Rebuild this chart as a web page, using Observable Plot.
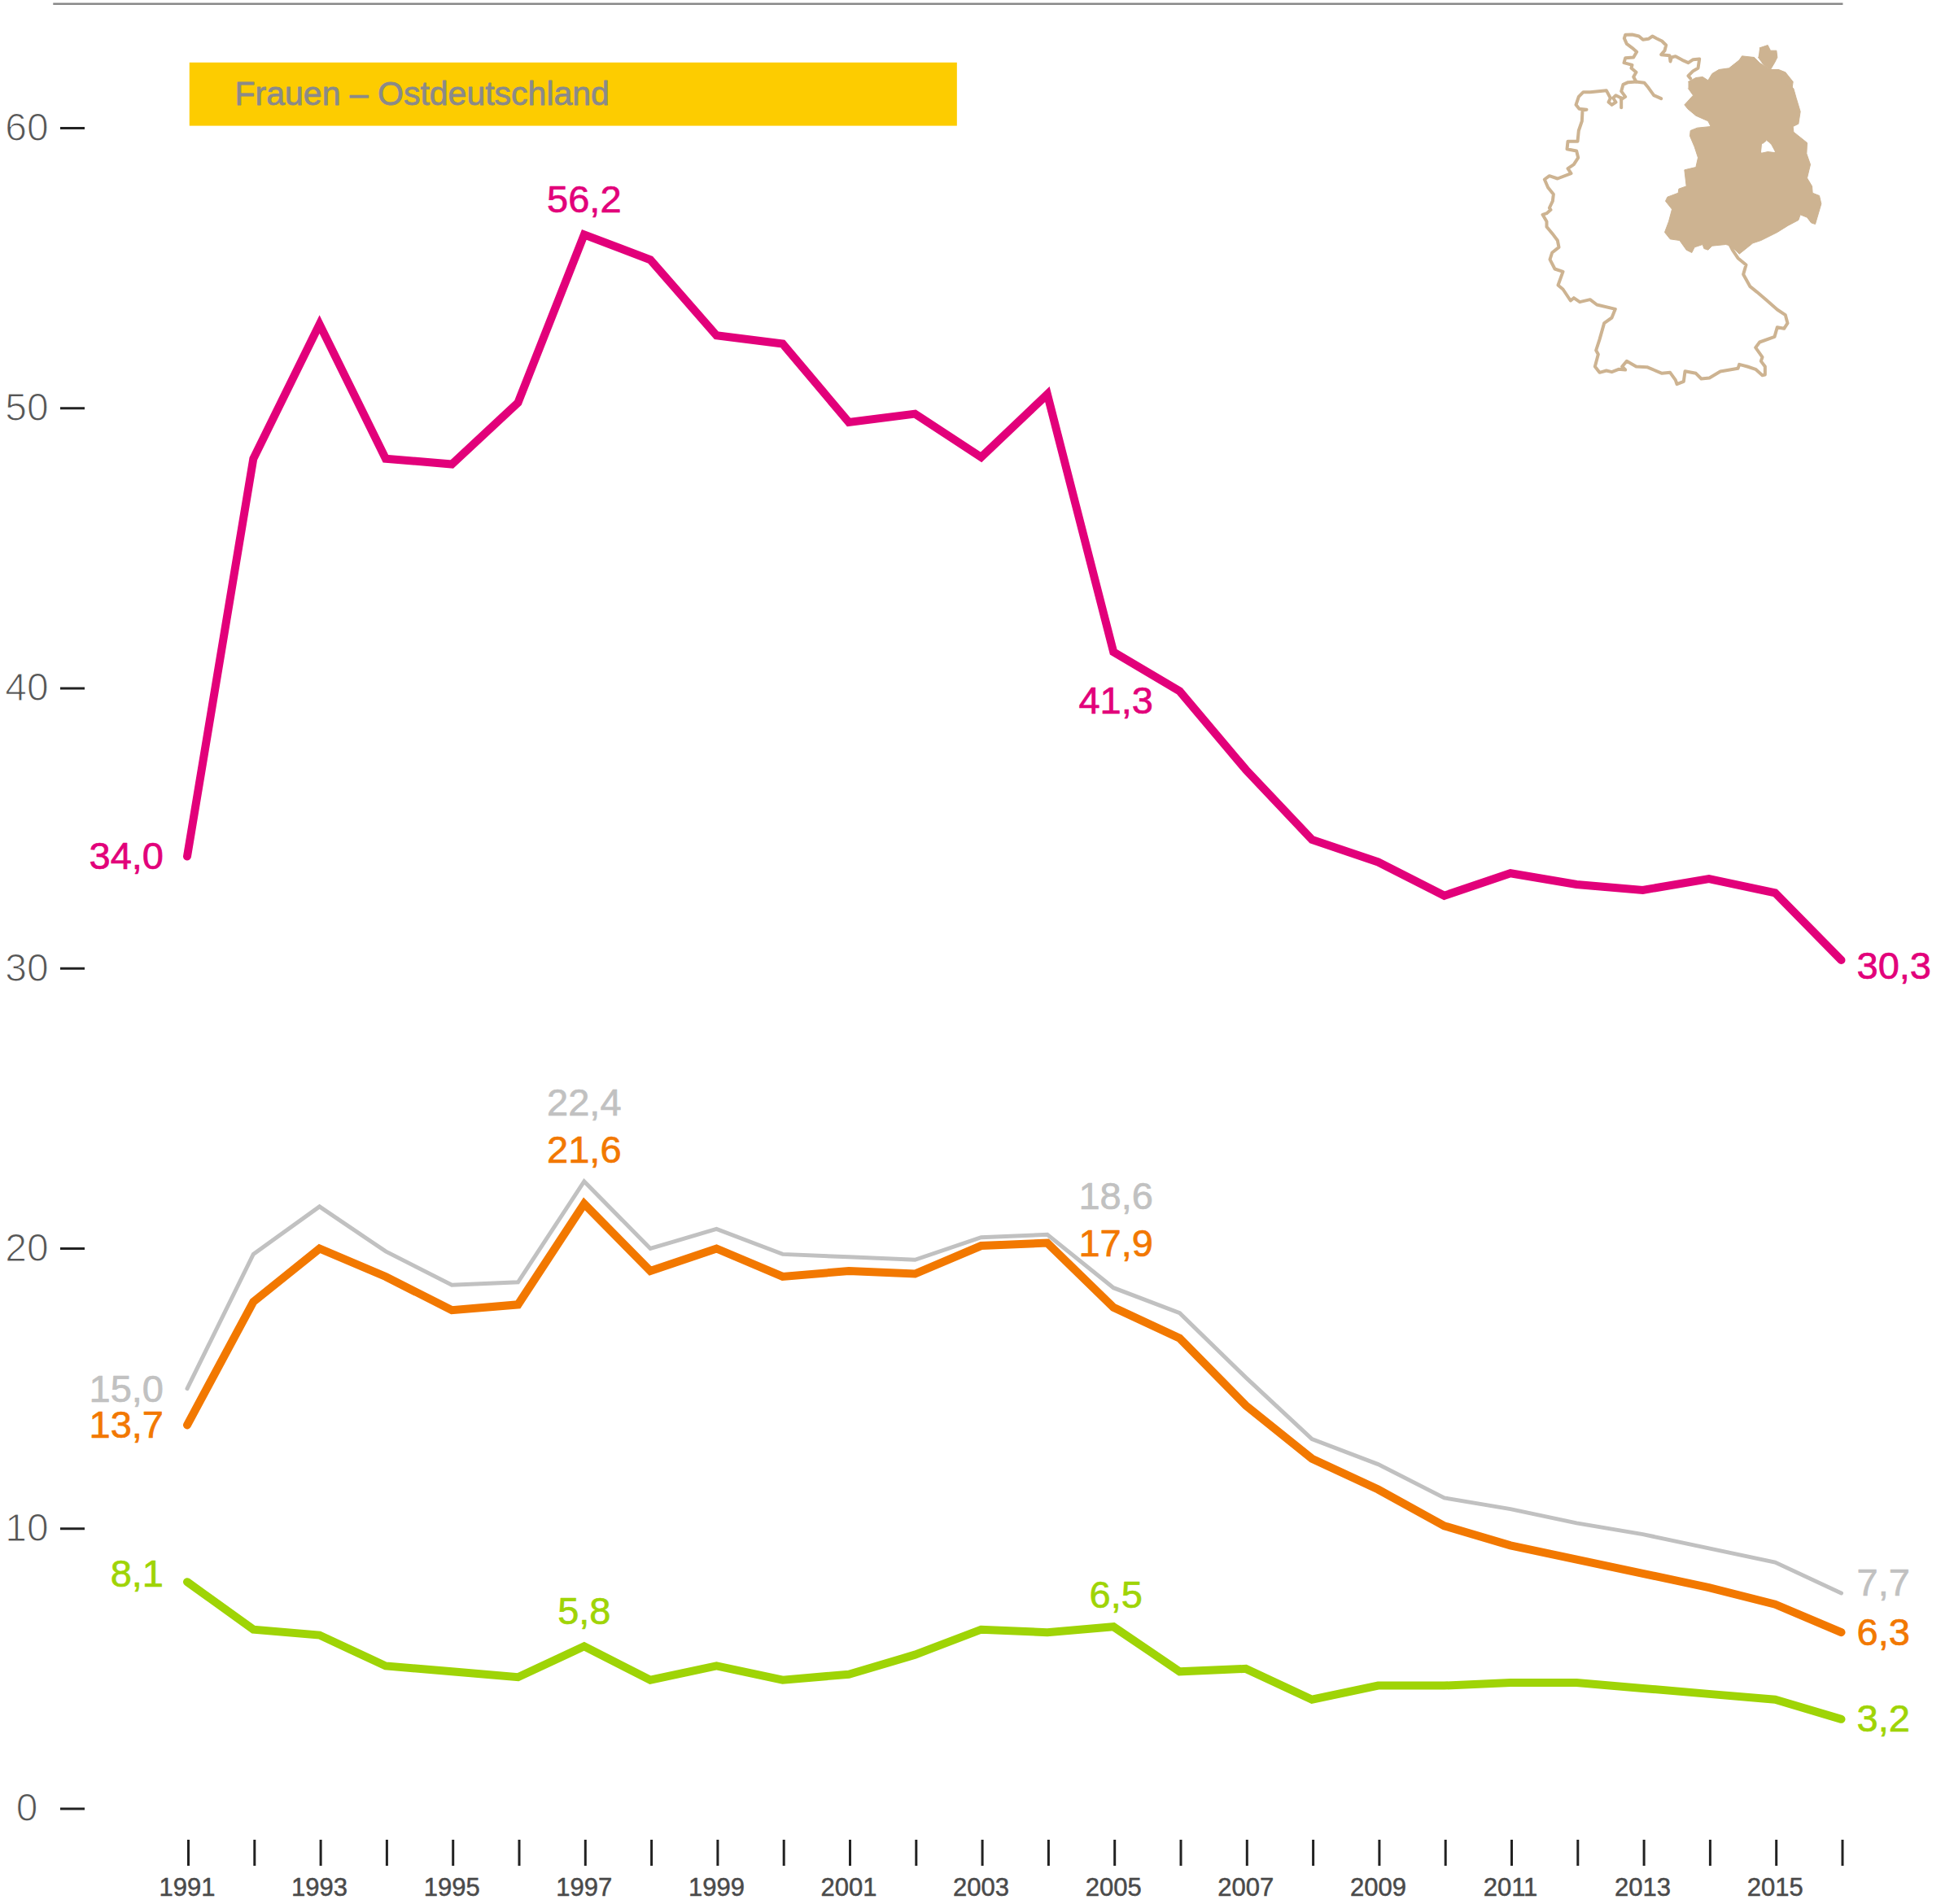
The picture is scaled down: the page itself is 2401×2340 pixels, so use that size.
<!DOCTYPE html>
<html lang="de">
<head>
<meta charset="utf-8">
<style>html,body{margin:0;padding:0;background:#fff}</style>
<script src="https://cdn.jsdelivr.net/npm/d3@7"></script>
<script src="https://cdn.jsdelivr.net/npm/@observablehq/plot@0.6"></script>
</head>
<body>
<div id="chart"></div>
<script>
const years = d3.range(1991, 2017);
const labelledYears = years.filter(y => y % 2 === 1);
const pink   = [34.0,48.2,53.0,48.2,48.0,50.2,56.2,55.3,52.6,52.3,49.5,49.8,48.25,50.5,41.3,39.9,37.1,34.6,33.8,32.6,33.4,33.0,32.8,33.2,32.7,30.3];
const grey   = [15.0,19.8,21.5,19.9,18.7,18.8,22.4,20.0,20.7,19.8,19.7,19.6,20.4,20.5,18.6,17.7,15.4,13.2,12.3,11.1,10.7,10.2,9.8,9.3,8.8,7.7];
const orange = [13.7,18.1,20.0,19.0,17.8,18.0,21.6,19.2,20.0,19.0,19.2,19.1,20.1,20.2,17.9,16.8,14.4,12.5,11.4,10.1,9.4,8.9,8.4,7.9,7.3,6.3];
const green  = [8.1,6.4,6.2,5.1,4.9,4.7,5.8,4.6,5.1,4.6,4.8,5.5,6.4,6.3,6.5,4.9,5.0,3.9,4.4,4.4,4.5,4.5,4.3,4.1,3.9,3.2];

const yTicks = [0,10,20,30,40,50,60];
const title = "Frauen – Ostdeutschland";

const COL = {pink:"#e2007a", grey:"#c1c1c1", orange:"#f27800", green:"#9fd406", tan:"#cdb391"};

// Outline of Germany and the filled eastern states (traced, in map units)
const westOutline = [[680,228],[672,218],[690,200],[708,190],[713,156],[690,158],[672,170],[650,160],[625,146],[610,150],[606,165],[603,143],[572,140],[585,125],[590,105],[575,90],[555,80],[540,72],[525,82],[505,85],[490,72],[465,66],[440,67],[436,80],[445,100],[465,115],[482,130],[470,150],[440,152],[435,170],[465,178],[462,190],[480,205],[470,222],[480,240],[450,242],[432,250],[425,275],[440,295],[425,305],[425,300],[405,290],[395,300],[405,315],[390,325],[378,315],[385,300],[370,272],[310,278],[285,278],[268,295],[258,325],[270,340],[297,343],[282,345],[280,385],[268,420],[264,460],[228,460],[225,488],[260,495],[266,520],[250,545],[228,560],[240,578],[190,597],[160,587],[142,600],[155,630],[175,655],[172,680],[160,705],[165,712],[150,725],[135,730],[150,755],[150,775],[175,805],[190,825],[195,850],[170,870],[162,895],[180,930],[210,940],[192,990],[210,1005],[238,1047],[250,1037],[272,1052],[310,1043],[335,1062],[403,1078],[390,1110],[362,1130],[345,1190],[332,1230],[340,1245],[328,1290],[345,1312],[370,1305],[390,1310],[415,1300],[440,1302],[428,1290],[445,1270],[480,1290],[520,1292],[575,1315],[605,1312],[625,1340],[630,1355],[655,1345],[660,1307],[700,1315],[720,1335],[750,1332],[790,1308],[855,1297],[860,1282],[890,1290],[920,1300],[945,1322],[955,1320],[955,1290],[940,1270],[945,1255],[920,1220],[935,1200],[990,1180],[1000,1145],[1025,1150],[1038,1130],[1030,1100],[1000,1080],[960,1045],[925,1015],[900,995],[875,950],[885,915],[855,890],[835,860],[825,840]];
const elbeOutline = [[480,240],[510,244],[525,262],[545,290],[572,302]];
const emsOutline = [[425,300],[425,335]];
const eastArea = [[672,240],[700,225],[725,222],[745,235],[760,210],[785,195],[822,190],[860,160],[880,150],[915,150],[935,170],[950,180],[975,195],[1005,195],[1022,225],[1060,265],[1070,300],[1085,350],[1078,395],[1058,405],[1060,425],[1110,465],[1108,505],[1122,545],[1110,595],[1128,625],[1130,650],[1155,660],[1162,690],[1140,765],[1125,760],[1110,740],[1085,730],[1078,750],[1040,770],[1000,795],[940,825],[910,835],[860,875],[830,845],[810,840],[760,845],[745,860],[730,855],[725,840],[695,850],[685,870],[665,860],[640,825],[605,820],[585,795],[600,755],[612,710],[588,680],[595,665],[635,650],[637,635],[665,625],[658,565],[700,555],[708,520],[695,480],[678,440],[680,420],[705,410],[755,405],[745,385],[700,365],[670,340],[658,325],[690,290],[672,265]];
const ruegen = [[935,115],[965,105],[975,125],[997,125],[1000,150],[990,170],[975,195],[950,178],[930,150]];
const usedom = [[1005,195],[1030,205],[1058,240],[1055,262],[1030,250],[1020,240]];
const darss = [[860,160],[870,145],[915,150],[880,155]];
const berlin = [[960,458],[975,470],[990,498],[965,495],[942,500],[945,470]];

// Page geometry of the chart's scales
const xRange = [229.5, 2262], yRange = [2222.5, 157];
const xDomain = [1991, 2016], yDomain = [0, 60];
const xOf = d3.scaleLinear().domain(xRange).range(xDomain);
const yOf = d3.scaleLinear().domain(yRange).range(yDomain);
const mapX = p => xOf(1850 + p[0] / 3);
const mapY = p => yOf(20 + p[1] / 3);

const series = [
  {name:"grey", values:grey, w:5},
  {name:"orange", values:orange, w:10},
  {name:"green", values:green, w:10},
  {name:"pink", values:pink, w:10}
];
const lineOf = s => Plot.line(years.map((y,i)=>({year:y, v:s.values[i]})), {
  x:"year", y:"v", stroke:COL[s.name], strokeWidth:s.w,
  strokeLinecap:"round", strokeLinejoin:"miter", strokeMiterlimit:6
});

// Value labels: [year, value, colour, vertical nudge]
const labelsLeft = [[1991,34.0,"pink",0],[1991,15.0,"grey",1],[1991,13.7,"orange",1],[1991,8.1,"green",-9]];
const labelsRight = [[2016,30.3,"pink",8],[2016,7.7,"grey",-12],[2016,6.3,"orange",1],[2016,3.2,"green",0]];
const labelsMid = [[1997,56.2,"pink",-42],[1997,22.4,"grey",-96],[1997,21.6,"orange",-65],[1997,5.8,"green",-42],
                   [2005,41.3,"pink",61],[2005,18.6,"grey",-112],[2005,17.9,"orange",-78],[2005,6.5,"green",-38]];
const fmt = v => v.toFixed(1).replace(".", ",");
const labelMark = (rows, anchor, dx) => rows.map(r => Plot.text([r], {
  x:d=>d[0], y:d=>d[1], text:d=>fmt(d[1]), fill:COL[r[2]], stroke:COL[r[2]], strokeWidth:0.7, textAnchor:anchor, lineAnchor:"middle",
  dx: typeof dx === "function" ? dx(r) : dx, dy:r[3], fontSize:47
}));

const shape = (pts, o) => Plot.line(pts, {x:mapX, y:mapY, ...o});

const plot = Plot.plot({
  width:2401, height:2340,
  marginLeft:104, marginRight:0, marginTop:0, marginBottom:79,
  style:{fontFamily:"'Liberation Sans',Helvetica,Arial,sans-serif", background:"#fff", overflow:"visible"},
  x:{domain:xDomain, range:xRange},
  y:{domain:yDomain, range:yRange},
  marks:[
    Plot.axisY({ticks:yTicks, anchor:"left", tickSize:30, label:null, stroke:"#222", strokeWidth:3, tickFormat:()=>""}),
    Plot.text(yTicks, {x:()=>xOf(32.5), y:d=>d, text:d=>String(d), textAnchor:"middle", lineAnchor:"middle", fontSize:48,
      fill:"#555", stroke:"#fff", strokeWidth:1.1, paintOrder:"fill"}),
    Plot.axisX({ticks:years, anchor:"bottom", tickSize:32, label:null, dx:1.5, stroke:"#222", strokeWidth:3, tickFormat:()=>""}),
    Plot.text(labelledYears, {x:d=>d, y:()=>yOf(2320), text:d=>String(d), textAnchor:"middle", lineAnchor:"middle", fontSize:31,
      fill:"#4a4a4a", stroke:"#4a4a4a", strokeWidth:0.5}),
    Plot.ruleY([64.44], {x1:1988.98, x2:2016.03, stroke:"#888", strokeWidth:2.5}),
    Plot.rect([{x1:1991.04,x2:2002.64,y1:60.07,y2:62.33}], {x1:"x1",x2:"x2",y1:"y1",y2:"y2",fill:"#fdcc00"}),
    Plot.text([title], {x:()=>1991.72, y:()=>61.2, text:d=>d, textAnchor:"start", lineAnchor:"middle", fill:"#8a8a8a", stroke:"#8a8a8a", strokeWidth:0.8, fontSize:41}),
    shape(westOutline, {stroke:COL.tan, strokeWidth:4, strokeLinejoin:"round"}),
    shape(elbeOutline, {stroke:COL.tan, strokeWidth:4}),
    shape(emsOutline, {stroke:COL.tan, strokeWidth:4}),
    shape(eastArea, {fill:COL.tan, stroke:COL.tan, strokeWidth:1}),
    shape(ruegen, {fill:COL.tan, stroke:COL.tan, strokeWidth:1}),
    shape(usedom, {fill:COL.tan, stroke:COL.tan, strokeWidth:1}),
    shape(darss, {fill:COL.tan, stroke:COL.tan, strokeWidth:1}),
    shape(berlin, {fill:"#fff", stroke:"#fff", strokeWidth:1}),
    ...series.map(lineOf),
    ...labelMark(labelsLeft, "end", -29),
    ...labelMark(labelsRight, "start", 19),
    ...labelMark(labelsMid, "middle", r => r[0]===2005 ? 3 : 0)
  ]
});
document.getElementById("chart").append(plot);
</script>
</body>
</html>
